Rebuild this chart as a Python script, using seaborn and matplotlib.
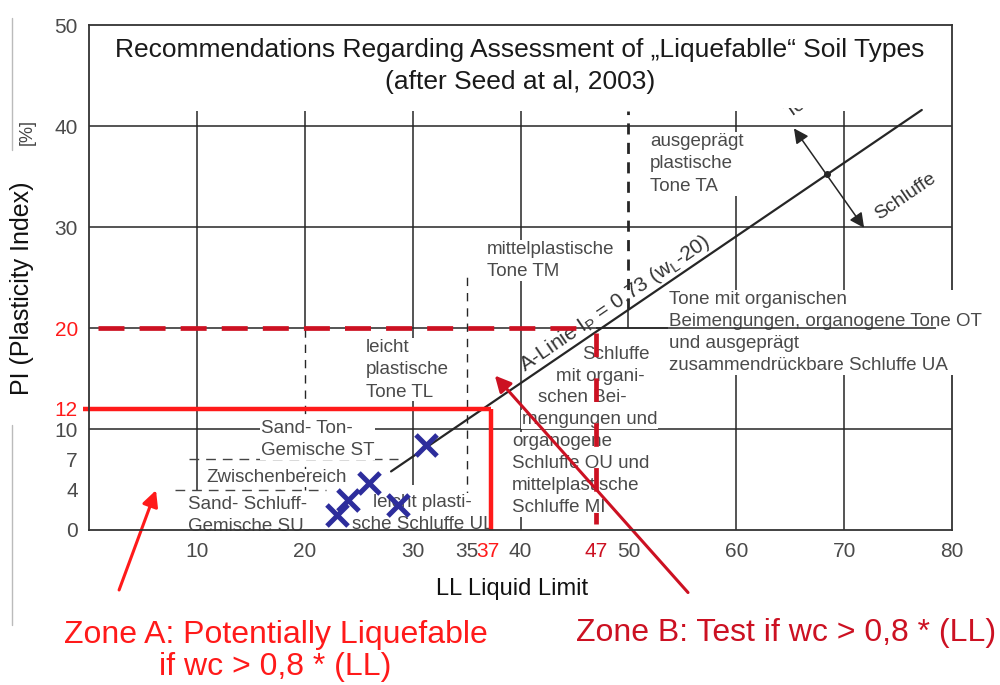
import numpy as np
import matplotlib
matplotlib.use("Agg")
import matplotlib.pyplot as plt
from matplotlib.lines import Line2D
import seaborn as sns

# ----------------- chart values -----------------
ll_ticks = [10, 20, 30, 35, 37, 40, 47, 50, 60, 70, 80]
pi_ticks = [0, 4, 7, 10, 12, 20, 30, 40, 50]
red_ll = [37, 47]
red_pi = [12, 20]
grid_pi = [10, 20, 30, 40]

# tested samples (blue X)
sample_ll = [31.2, 26.0, 24.0, 28.6, 23.0]
sample_pi = [8.4, 4.65, 3.0, 2.5, 1.5]

# A-line  I_P = 0.73 (w_L - 20), end points as drawn
a_line_ll = [28.0, 77.2]
a_line_pi = [5.8, 41.6]

# zone limits
zone_a_ll, zone_a_pi = 37.3, 12
zone_b_ll, zone_b_pi = 47, 20

# colours
GRID = "#262626"
TXT = "#4a4a4a"
RED = "#ff1a1a"
DRED = "#cc1122"
BLUE = "#2d2d9c"

sns.set_theme(style="white")
plt.rcParams["font.family"] = ["Liberation Sans", "DejaVu Sans"]
plt.rcParams["mathtext.default"] = "regular"

fig = plt.figure(figsize=(10, 6.85), dpi=100)
ax = fig.add_axes([0.089, 0.2263, 0.863, 0.737])
ax.set_xlim(0, 80)
ax.set_ylim(0, 50)

# ----------------- grid of the plasticity chart -----------------
ax.hlines(grid_pi, 0, 80, color=GRID, lw=1.1, zorder=1)
for ll, lo, hi in [(10, 4, 41.5), (20, 20, 41.5), (30, 4.5, 41.5), (40, 0, 41.5),
                   (60, 0, 41.5), (70, 0, 41.5), (50, 20, 21.9)]:
    ax.vlines(ll, lo, hi, color=GRID, lw=1.1, zorder=1)
ax.vlines(20, 4, 20, color=GRID, lw=1.0, linestyles=(0, (6, 5)), zorder=1)
ax.vlines(35, 0, 25.5, color=GRID, lw=1.0, linestyles=(0, (6, 5)), zorder=1)
ax.vlines(50, 21.9, 41.5, color=GRID, lw=2.0, linestyles=(0, (4, 3)), zorder=1)
ax.hlines(7, 9.3, 28.6, color="#444444", lw=1.0, linestyles=(0, (7, 5)), zorder=1)
ax.hlines(4, 8.0, 22.0, color="#444444", lw=1.0, linestyles=(0, (7, 5)), zorder=1)

sns.lineplot(x=a_line_ll, y=a_line_pi, color=GRID, lw=1.6, ax=ax, zorder=4)

# double arrow across the A-line (Tone / Schluffe)
ax.annotate("", xy=(65.2, 40.0), xytext=(72.0, 29.7),
            arrowprops=dict(arrowstyle="<|-|>", color=GRID, lw=1.1, mutation_scale=22),
            zorder=4)
ax.plot([68.4], [35.3], "o", color=GRID, ms=4, zorder=4)

ang = np.degrees(np.arctan(0.73))
ax.text(48.7, 22.4, "A-Linie I$_P$ = 0,73 (w$_L$-20)", rotation=ang, transform_rotates_text=True,
        ha="center", va="center", fontsize=15, color="#333333", zorder=4)
ax.text(75.7, 33.0, "Schluffe", rotation=ang, transform_rotates_text=True,
        ha="center", va="center", fontsize=14, color="#333333", zorder=4)
ax.text(66.3, 42.4, "Tone", rotation=ang, transform_rotates_text=True,
        ha="center", va="center", fontsize=14, color="#333333", zorder=4)

# ----------------- soil group labels -----------------
box = dict(boxstyle="square,pad=0.05", fc="white", ec="none")
kw = dict(fontsize=13.5, color=TXT, zorder=3, bbox=box, linespacing=1.4)
ax.text(52.0, 39.3, "ausgeprägt\nplastische\nTone TA", ha="left", va="top", **kw)
ax.text(36.9, 28.6, "mittelplastische\nTone TM", ha="left", va="top", **kw)
ax.text(25.7, 18.9, "leicht\nplastische\nTone TL", ha="left", va="top", **kw)
ax.text(15.9, 10.9, "Sand- Ton-\nGemische ST", ha="left", va="top", **kw)
ax.text(10.9, 5.15, "Zwischenbereich", ha="left", va="center", **kw)
ax.text(9.2, 3.35, "Sand- Schluff-\nGemische SU", ha="left", va="top", **kw)
ax.text(30.9, 3.6, "leicht plasti-\nsche Schluffe UL", ha="center", va="top", **kw)
ax.text(39.2, 9.65, "organogene\nSchluffe OU und\nmittelplastische\nSchluffe MI", ha="left", va="top", **kw)
for txt, x, y in [("Schluffe", 45.7, 17.4), ("mit organi-", 43.3, 15.2),
                  ("schen Bei-", 41.6, 13.1), ("mengungen und", 40.1, 10.9)]:
    ax.text(x, y, txt, ha="left", va="center", **kw)
ax.text(53.8, 23.7, "Tone mit organischen\nBeimengungen, organogene Tone OT\nund ausgeprägt\n"
        "zusammendrückbare Schluffe UA", ha="left", va="top", **kw)
ax.hlines(20, 47, 78.5, color=GRID, lw=1.1, zorder=4)

# blank band for the title
ax.fill_between([0.2, 79.8], 41.75, 49.8, color="white", lw=0, zorder=5)

# ----------------- samples -----------------
sns.scatterplot(x=sample_ll, y=sample_pi, marker="x", s=230, linewidth=3.6,
                color=BLUE, ax=ax, zorder=6)

# ----------------- zone limits -----------------
ax.plot([-0.6, zone_a_ll], [zone_a_pi, zone_a_pi], color=RED, lw=3.2,
        solid_capstyle="butt", clip_on=False, zorder=7)
ax.plot([zone_a_ll, zone_a_ll], [0, zone_a_pi], color=RED, lw=3.2,
        solid_capstyle="butt", zorder=7)
ax.plot([0.8, 45.2], [zone_b_pi, zone_b_pi], color=DRED, lw=3.4,
        dashes=(5.5, 3.2), dash_capstyle="butt", zorder=7)
ax.plot([zone_b_ll, zone_b_ll], [19.5, 0.6], color=DRED, lw=3.4,
        dashes=(5, 4.5), dash_capstyle="butt", zorder=7)

ax.annotate("", xy=(6.3, 4.2), xytext=(2.7, -6.2), annotation_clip=False,
            arrowprops=dict(arrowstyle="-|>", color=RED, lw=2.2, mutation_scale=24), zorder=8)
ax.annotate("", xy=(37.45, 15.5), xytext=(55.7, -6.4), annotation_clip=False,
            arrowprops=dict(arrowstyle="-|>", color=DRED, lw=2.2, mutation_scale=24), zorder=8)

# ----------------- axes -----------------
for name, s in ax.spines.items():
    s.set_color("#333333")
    s.set_linewidth(1.3)
    s.set_zorder(2 if name == "right" else 8)

ax.set_xticks(ll_ticks)
ax.set_xticklabels([str(v) for v in ll_ticks])
ax.set_yticks(pi_ticks)
ax.set_yticklabels([str(v) for v in pi_ticks])
ax.tick_params(axis="x", length=0, pad=9, labelsize=15, labelcolor=TXT)
ax.tick_params(axis="y", direction="in", length=12, width=1.2, color=GRID, pad=8,
               labelsize=15, labelcolor=TXT)
for lab in ax.get_xticklabels():
    if int(lab.get_text()) in red_ll:
        lab.set_color(DRED if lab.get_text() == "47" else RED)
for lab in ax.get_yticklabels():
    if int(lab.get_text()) in red_pi:
        lab.set_color(RED)

ax.set_xlabel("LL Liquid Limit", fontsize=17, color="#111111")
ax.xaxis.set_label_coords(0.49, -0.095)
ax.set_ylabel("")
fig.text(22 / 1000, 1 - 288 / 685, "PI (Plasticity Index)", rotation=90, ha="center",
         va="center", fontsize=18, color="#111111")
fig.text(27 / 1000, 1 - 132 / 685, "[%]", rotation=90, ha="center", va="center",
         fontsize=13, color="#444444")

fig.text(0.52, 1 - 50 / 685, "Recommendations Regarding Assessment of „Liquefablle“ Soil Types",
         ha="center", va="center", fontsize=19, color="#1a1a1a")
fig.text(0.52, 1 - 82 / 685, "(after Seed at al, 2003)", ha="center", va="center",
         fontsize=19, color="#1a1a1a")

fig.text(0.276, 1 - 635 / 685, "Zone A: Potentially Liquefable", ha="center", va="center",
         fontsize=23, color=RED)
fig.text(0.275, 1 - 667 / 685, "if wc > 0,8 * (LL)", ha="center", va="center",
         fontsize=23, color=RED)
fig.text(0.7865, 1 - 633 / 685, "Zone B: Test if wc > 0,8 * (LL)", ha="center", va="center",
         fontsize=23, color=DRED)

# page frame marks on the left
for y0, y1 in [(18, 150), (425, 625)]:
    fig.add_artist(Line2D([0.012, 0.012], [1 - y0 / 685, 1 - y1 / 685], color="#bbbbbb", lw=1))

fig.savefig("out.png", dpi=100)
